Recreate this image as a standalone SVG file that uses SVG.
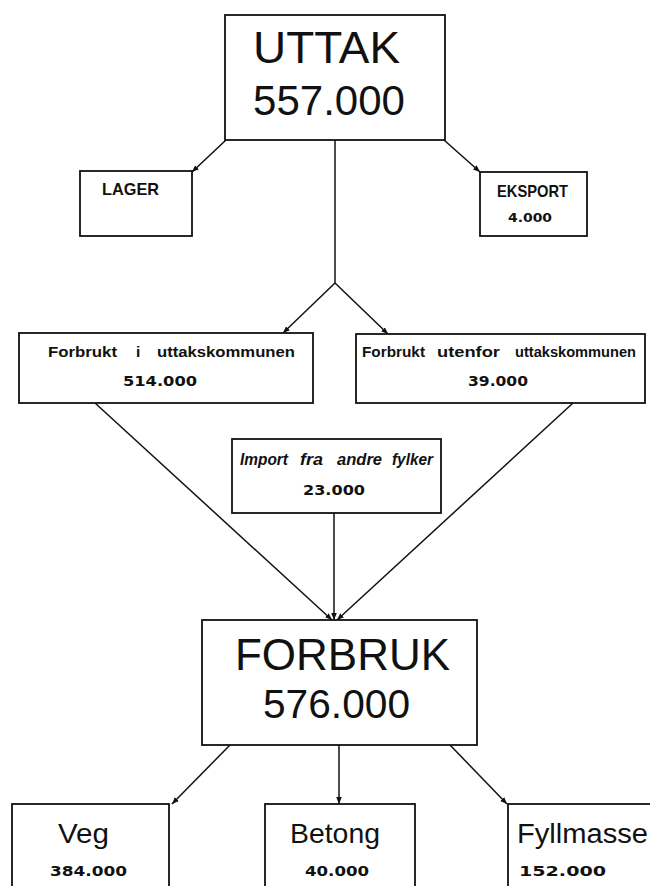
<svg xmlns="http://www.w3.org/2000/svg" width="650" height="886" viewBox="0 0 650 886">
<style>
.box{fill:#fff;stroke:#111;stroke-width:1.8}
.big{font-family:"Liberation Sans",Arial,sans-serif;fill:#111}
.lab{font-family:"Liberation Sans",Arial,sans-serif;font-weight:bold;fill:#111}
.num{font-family:"DejaVu Sans",sans-serif;font-weight:bold;fill:#111}
.mid{font-family:"Liberation Sans",Arial,sans-serif;fill:#111}
.con{stroke:#111;stroke-width:1.5;fill:none}
.fk{font-size:15.5px}
</style>
<defs>
<marker id="ah" viewBox="0 0 10 10" refX="10" refY="5" markerWidth="7" markerHeight="7" orient="auto" markerUnits="userSpaceOnUse">
<path d="M0,1 L10,5 L0,9 z" fill="#111"/>
</marker>
</defs>
<rect width="650" height="886" fill="#fff"/>
<g id="connectors">
<line class="con" x1="226" y1="140" x2="192" y2="172" marker-end="url(#ah)"/>
<line class="con" x1="444" y1="140" x2="480" y2="172" marker-end="url(#ah)"/>
<line class="con" x1="335" y1="140" x2="335" y2="283"/>
<line class="con" x1="335" y1="283" x2="283" y2="333" marker-end="url(#ah)"/>
<line class="con" x1="335" y1="283" x2="388" y2="334" marker-end="url(#ah)"/>
<line class="con" x1="95" y1="403" x2="332" y2="620" marker-end="url(#ah)"/>
<line class="con" x1="334" y1="513" x2="334" y2="620" marker-end="url(#ah)"/>
<line class="con" x1="573" y1="403" x2="337" y2="620" marker-end="url(#ah)"/>
<line class="con" x1="230" y1="745" x2="172" y2="804" marker-end="url(#ah)"/>
<line class="con" x1="339" y1="745" x2="339" y2="804" marker-end="url(#ah)"/>
<line class="con" x1="450" y1="745" x2="507" y2="804" marker-end="url(#ah)"/>
</g>
<g id="uttak">
<rect class="box" x="225" y="15" width="220" height="125"/>
<text class="big" x="253" y="63" font-size="44" textLength="147" lengthAdjust="spacingAndGlyphs">UTTAK</text>
<text class="big" x="253" y="115" font-size="42" textLength="152" lengthAdjust="spacingAndGlyphs">557.000</text>
</g>
<g id="lager">
<rect class="box" x="80" y="171" width="112" height="65"/>
<text class="lab" x="102" y="195" font-size="17" textLength="57" lengthAdjust="spacingAndGlyphs">LAGER</text>
</g>
<g id="eksport">
<rect class="box" x="480" y="172" width="107" height="64"/>
<text class="lab" x="497" y="197" font-size="17" textLength="71" lengthAdjust="spacingAndGlyphs">EKSPORT</text>
<text class="num" x="508" y="222" font-size="13" textLength="44" lengthAdjust="spacingAndGlyphs">4.000</text>
</g>
<g id="forbrukt-i">
<rect class="box" x="19" y="333" width="294" height="70"/>
<text class="lab fk" x="48" y="357" textLength="69" lengthAdjust="spacingAndGlyphs">Forbrukt</text>
<text class="lab fk" x="136" y="357">i</text>
<text class="lab fk" x="157" y="357" textLength="138" lengthAdjust="spacingAndGlyphs">uttakskommunen</text>
<text class="num" x="123" y="386" font-size="14" textLength="74" lengthAdjust="spacingAndGlyphs">514.000</text>
</g>
<g id="forbrukt-utenfor">
<rect class="box" x="356" y="334" width="289" height="69"/>
<text class="lab fk" x="362" y="357" textLength="63" lengthAdjust="spacingAndGlyphs">Forbrukt</text>
<text class="lab fk" x="437" y="357" textLength="63" lengthAdjust="spacingAndGlyphs">utenfor</text>
<text class="lab fk" x="515" y="357" textLength="121" lengthAdjust="spacingAndGlyphs">uttakskommunen</text>
<text class="num" x="468" y="386" font-size="14" textLength="60" lengthAdjust="spacingAndGlyphs">39.000</text>
</g>
<g id="import">
<rect class="box" x="232" y="439" width="209" height="74"/>
<text class="lab" x="240" y="465" font-size="17" font-style="italic" textLength="48" lengthAdjust="spacingAndGlyphs">Import</text>
<text class="lab" x="300" y="465" font-size="17" font-style="italic" textLength="23" lengthAdjust="spacingAndGlyphs">fra</text>
<text class="lab" x="337" y="465" font-size="17" font-style="italic" textLength="45" lengthAdjust="spacingAndGlyphs">andre</text>
<text class="lab" x="392" y="465" font-size="17" font-style="italic" textLength="41" lengthAdjust="spacingAndGlyphs">fylker</text>
<text class="num" x="303" y="495" font-size="14" textLength="62" lengthAdjust="spacingAndGlyphs">23.000</text>
</g>
<g id="forbruk">
<rect class="box" x="202" y="620" width="275" height="125"/>
<text class="big" x="235" y="670" font-size="44" textLength="215" lengthAdjust="spacingAndGlyphs">FORBRUK</text>
<text class="big" x="263" y="718" font-size="40" textLength="147" lengthAdjust="spacingAndGlyphs">576.000</text>
</g>
<g id="veg">
<rect class="box" x="12" y="804" width="157" height="94"/>
<text class="mid" x="58" y="843" font-size="28" textLength="51" lengthAdjust="spacingAndGlyphs">Veg</text>
<text class="num" x="50" y="876" font-size="14" textLength="77" lengthAdjust="spacingAndGlyphs">384.000</text>
</g>
<g id="betong">
<rect class="box" x="265" y="804" width="150" height="94"/>
<text class="mid" x="290" y="843" font-size="28" textLength="90" lengthAdjust="spacingAndGlyphs">Betong</text>
<text class="num" x="305" y="876" font-size="14" textLength="64" lengthAdjust="spacingAndGlyphs">40.000</text>
</g>
<g id="fyllmasse">
<rect class="box" x="508" y="804" width="150" height="94"/>
<text class="mid" x="517" y="843" font-size="27" textLength="131" lengthAdjust="spacingAndGlyphs">Fyllmasse</text>
<text class="num" x="519" y="876" font-size="14" textLength="87" lengthAdjust="spacingAndGlyphs">152.000</text>
</g>
</svg>
